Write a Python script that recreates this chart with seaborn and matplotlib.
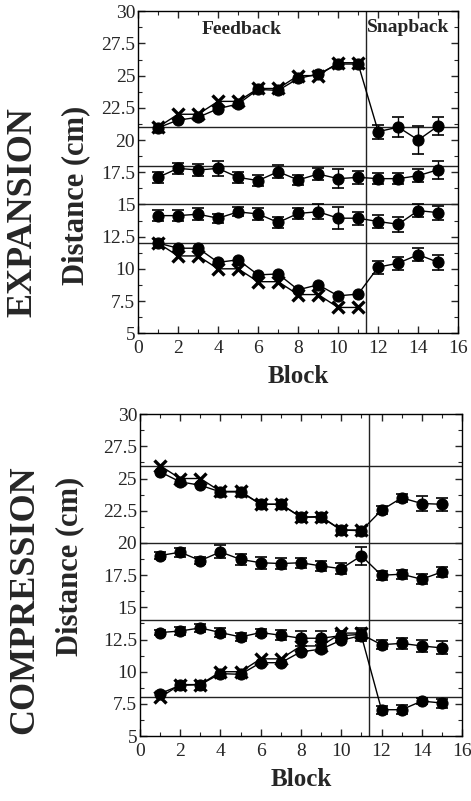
import numpy as np
import matplotlib
matplotlib.use("Agg")
import matplotlib.pyplot as plt
from matplotlib.ticker import MultipleLocator
import seaborn as sns
import pandas as pd

blocks = list(range(1, 16))
fb_blocks = list(range(1, 12))

# EXPANSION panel
exp_ref_lines = [21, 18, 15, 12]
exp_a = [20.95, 21.55, 21.76, 22.43, 22.8, 23.93, 23.85, 24.78, 25.12, 25.9, 25.9, 20.65, 21.0, 20.0, 21.1]
exp_a_err = [0, 0, 0, 0, 0, 0, 0, 0, 0, 0, 0, 0.55, 0.75, 1.1, 0.7]
exp_a_target = [21, 22, 22, 23, 23, 24, 24, 25, 25, 26, 26]
exp_b = [17.1, 17.8, 17.67, 17.8, 17.1, 16.85, 17.54, 16.9, 17.36, 17.0, 17.1, 17.0, 17.0, 17.23, 17.7]
exp_b_err = [0.45, 0.45, 0.45, 0.6, 0.45, 0.45, 0.5, 0.4, 0.45, 0.75, 0.5, 0.45, 0.45, 0.5, 0.7]
exp_c = [14.13, 14.13, 14.24, 13.93, 14.42, 14.26, 13.6, 14.3, 14.43, 13.93, 13.93, 13.67, 13.46, 14.52, 14.36]
exp_c_err = [0.4, 0.4, 0.45, 0.35, 0.35, 0.45, 0.45, 0.4, 0.6, 0.85, 0.5, 0.5, 0.6, 0.5, 0.55]
exp_d = [12.0, 11.6, 11.6, 10.5, 10.7, 9.53, 9.6, 8.37, 8.76, 7.9, 8.04, 10.13, 10.44, 11.1, 10.5]
exp_d_err = [0, 0, 0, 0, 0, 0, 0, 0, 0, 0, 0, 0.5, 0.5, 0.5, 0.6]
exp_d_target = [12, 11, 11, 10, 10, 9, 9, 8, 8, 7, 7]

# COMPRESSION panel
cmp_ref_lines = [26, 20, 14, 8]
cmp_a = [25.52, 24.74, 24.48, 23.96, 23.96, 23.0, 23.0, 22.0, 22.05, 21.0, 20.95, 22.54, 23.5, 23.06, 23.0]
cmp_a_err = [0, 0, 0, 0, 0, 0, 0, 0, 0, 0, 0, 0.3, 0.3, 0.55, 0.5]
cmp_a_target = [26, 25, 25, 24, 24, 23, 23, 22, 22, 21, 21]
cmp_b = [19.02, 19.28, 18.63, 19.3, 18.72, 18.46, 18.4, 18.46, 18.21, 18.0, 19.0, 17.49, 17.57, 17.18, 17.75]
cmp_b_err = [0.3, 0.35, 0.3, 0.5, 0.45, 0.45, 0.4, 0.4, 0.4, 0.45, 0.7, 0.35, 0.35, 0.4, 0.4]
cmp_c = [13.04, 13.16, 13.4, 13.04, 12.7, 13.04, 12.83, 12.6, 12.6, 12.8, 12.9, 12.1, 12.2, 12.0, 11.85]
cmp_c_err = [0.2, 0.3, 0.3, 0.35, 0.3, 0.25, 0.4, 0.6, 0.55, 0.4, 0.5, 0.35, 0.45, 0.5, 0.5]
cmp_d = [8.3, 8.94, 9.0, 9.85, 9.8, 10.7, 10.7, 11.55, 11.75, 12.45, 12.8, 7.05, 7.05, 7.72, 7.57]
cmp_d_err = [0, 0, 0, 0, 0, 0, 0, 0, 0, 0, 0, 0.3, 0.35, 0.25, 0.35]
cmp_d_target = [8, 9, 9, 10, 10, 11, 11, 12, 12, 13, 13]

phase_split = 11.4
yticks = [5, 7.5, 10, 12.5, 15, 17.5, 20, 22.5, 25, 27.5, 30]
ytick_labels = ['5', '7.5', '10', '12.5', '15', '17.5', '20', '22.5', '25', '27.5', '30']

sns.set_style('ticks')
plt.rcParams['font.family'] = ['Liberation Serif', 'DejaVu Serif']


def draw_panel(ax, ref_lines, series, targets):
    for y in ref_lines:
        ax.axhline(y, color='#222222', lw=1.0, zorder=1)
    ax.axvline(phase_split, color='#222222', lw=1.0, zorder=1)

    for vals in targets:
        df = pd.DataFrame({'block': fb_blocks, 'dist': vals})
        sns.lineplot(data=df, x='block', y='dist', ax=ax, color='black', lw=1.0,
                     marker='x', markersize=8, markeredgewidth=2.4,
                     markeredgecolor='black', zorder=3)

    for vals, errs in series:
        df = pd.DataFrame({'block': blocks, 'dist': vals})
        sns.lineplot(data=df, x='block', y='dist', ax=ax, color='black', lw=1.0,
                     marker='o', markersize=8, markeredgecolor='black', zorder=4)
        e = np.array(errs)
        keep = e > 0
        ax.errorbar(np.array(blocks)[keep], np.array(vals)[keep], yerr=e[keep], fmt='none',
                    ecolor='black', elinewidth=1.0, capsize=4, capthick=1.2, zorder=2)

    ax.set_xlim(0, 16)
    ax.set_ylim(5, 30)
    ax.set_xticks(range(0, 17, 2))
    ax.set_yticks(yticks)
    ax.set_yticklabels(ytick_labels)
    ax.xaxis.set_minor_locator(MultipleLocator(1))
    ax.yaxis.set_minor_locator(MultipleLocator(1.25))
    ax.tick_params(which='both', direction='in', top=True, right=True, labelsize=14)
    ax.tick_params(axis='x', pad=5)
    ax.tick_params(axis='y', pad=2)
    ax.tick_params(which='major', length=5, width=1)
    ax.tick_params(which='minor', length=3, width=0.8)
    for sp in ax.spines.values():
        sp.set_linewidth(1.0)
        sp.set_color('black')
    ax.set_xlabel('Block', fontsize=18, fontweight='bold', labelpad=6)
    ax.set_ylabel('')


fig = plt.figure(figsize=(4.71, 8.01), dpi=100)
ax1 = fig.add_axes([0.293, 0.584, 0.680, 0.402])
ax2 = fig.add_axes([0.297, 0.081, 0.684, 0.402])

draw_panel(ax1, exp_ref_lines,
           [(exp_a, exp_a_err), (exp_b, exp_b_err), (exp_c, exp_c_err), (exp_d, exp_d_err)],
           [exp_a_target, exp_d_target])
draw_panel(ax2, cmp_ref_lines,
           [(cmp_a, cmp_a_err), (cmp_b, cmp_b_err), (cmp_c, cmp_c_err), (cmp_d, cmp_d_err)],
           [cmp_a_target, cmp_d_target])

ax1.text(5.2, 28.6, 'Feedback', fontsize=14, fontweight='bold', ha='center', va='center')
ax1.text(13.5, 28.75, 'Snapback', fontsize=14, fontweight='bold', ha='center', va='center')

W, H = 471, 801
fig.text(23 / W, 1 - 212 / H, 'EXPANSION', rotation=90, fontsize=26, fontweight='bold',
         ha='center', va='center')
fig.text(76 / W, 1 - 195 / H, 'Distance (cm)', rotation=90, fontsize=22, fontweight='bold',
         ha='center', va='center')
fig.text(25 / W, 1 - 600 / H, 'COMPRESSION', rotation=90, fontsize=26, fontweight='bold',
         ha='center', va='center')
fig.text(70 / W, 1 - 566 / H, 'Distance (cm)', rotation=90, fontsize=22, fontweight='bold',
         ha='center', va='center')

fig.savefig('out.png', dpi=100, facecolor='white')
